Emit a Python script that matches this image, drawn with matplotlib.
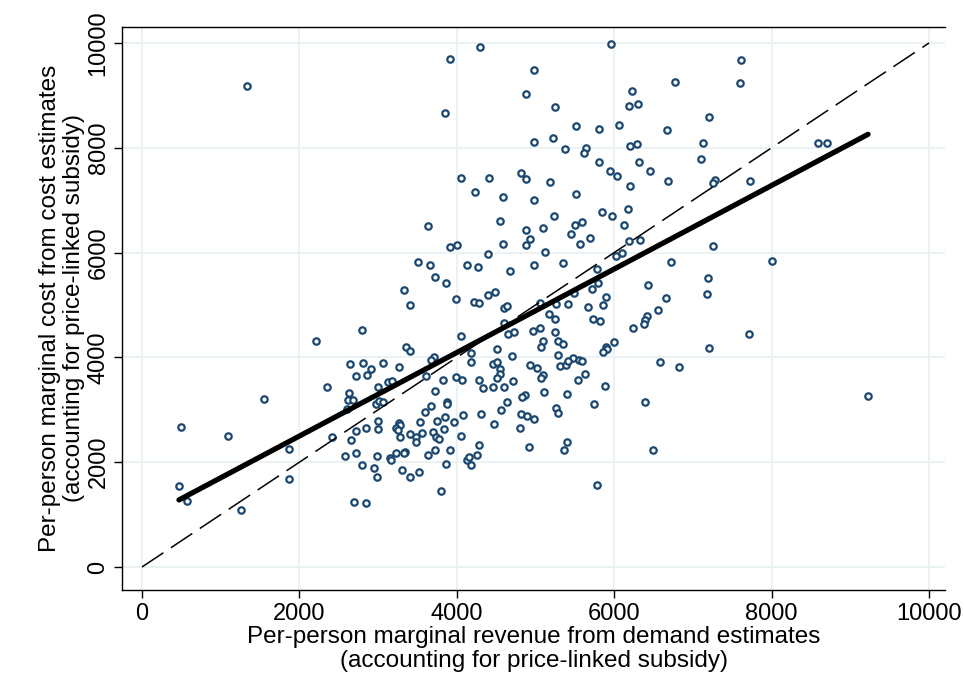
import numpy as np
import matplotlib.pyplot as plt

plt.rcParams["font.family"] = ["Liberation Sans", "DejaVu Sans"]
plt.rcParams["lines.scale_dashes"] = False

# marginal revenue (x) and marginal cost (y) per person, one entry per market
mr = [
    1340, 4295, 3914, 4880, 3850, 4053, 4409, 4816, 4880, 4231, 4587,
    5959, 4981, 6773, 6226, 6188, 6302, 5248, 7205, 5515, 5807, 6061, 6671,
    4981, 5222, 5375, 5642, 5616, 6201, 6290, 7128, 7103, 5807, 6315, 5947,
    6036, 6455, 5184, 6684, 6201, 5515, 7281, 7256, 4981,
    7611, 7599, 8590, 8704, 7726,
    2211, 2351,
    3634, 4549, 4880, 4930, 4587, 4880, 3914, 4003, 4397, 3507, 3660, 4130,
    4269, 4676, 3723, 3863, 3329, 4397, 4485, 3990, 3405, 4219, 4282, 4600,
    4638, 2795, 4600, 4053, 4651, 4727, 3355, 3405, 4511, 3710, 3672, 4180,
    4701, 2643, 2808, 3062, 3266, 4180, 4460, 4511, 4930, 2719, 2859, 2910,
    3609, 4549, 4549, 4511, 2999, 3126, 3177, 3825, 3990, 4066, 4282, 4460,
    4600, 4714, 4333,
    5235, 5845, 5972, 6175, 5095, 5502, 5591, 5451, 5693, 6125, 5565, 6188,
    6328, 7256, 5121, 6023, 6099, 4981, 5350, 6722, 5782, 7192, 5718, 5794,
    6429, 7179, 5489, 5896, 6658, 5261, 5413, 5667, 5858, 6557, 5057, 5172,
    5248, 5731, 5820, 6417, 6391, 6379, 6239, 4968, 5057, 5248, 5095, 5070,
    5286, 5350, 5998, 5896, 5909, 5858, 7205, 5286, 5477, 5553, 5591, 5019,
    5311, 5388, 5413, 6582, 6823, 5095, 5070, 5629, 5540, 5883,
    8005, 7713,
    500, 1093, 1550, 1868, 1868, 470, 572, 1258, 2414,
    2630, 2618, 2681, 2605, 2973, 3011, 3062, 3723, 3875, 3875, 4867, 4829,
    4638, 3672, 3596, 4079, 4308, 4562, 4816, 4892, 3850, 3748, 3964, 3532,
    2999, 4473, 4803, 3266, 3278, 3228, 3253, 2846, 2999, 2719, 2656, 3278,
    3405, 3482, 3482, 3558, 3698, 3736, 3774, 3837, 4053, 4282, 4257, 4130,
    4155, 4180, 3914, 3723, 3634, 3863, 3799, 3520, 3405, 3304, 3342, 3329,
    3228, 3151, 3164, 2986, 2948, 2986, 2795, 2719, 2580, 2694, 2846,
    5108, 5400, 5743, 5261, 5286, 6391, 4981, 4918, 5400, 5362, 6493, 5782,
    9225,
]
mc = [
    9180, 9924, 9695, 9027, 8664, 7424, 7424, 7519, 7405, 7157, 7061,
    9981, 9485, 9256, 9084, 8798, 8836, 8779, 8588, 8416, 8359, 8435, 8340,
    8111, 8187, 7977, 7996, 7901, 8034, 8073, 8092, 7786, 7729, 7729, 7557,
    7462, 7557, 7347, 7366, 7271, 7118, 7385, 7328, 7000,
    9676, 9237, 8092, 8092, 7366,
    4313, 3435,
    6508, 6603, 6431, 6260, 6164, 6145, 6107, 6145, 5973, 5821, 5763, 5763,
    5725, 5649, 5534, 5420, 5286, 5191, 5248, 5114, 5000, 5057, 5038, 4943,
    4981, 4523, 4656, 4408, 4447, 4485, 4198, 4122, 4160, 4008, 3950, 4084,
    4027, 3874, 3893, 3893, 3817, 3912, 3874, 3912, 3855, 3645, 3664, 3779,
    3645, 3779, 3683, 3607, 3435, 3530, 3550, 3569, 3626, 3569, 3569, 3435,
    3435, 3550, 3416,
    6698, 6775, 6698, 6832, 6469, 6527, 6584, 6355, 6279, 6527, 6164, 6221,
    6240, 6126, 6011, 5935, 5992, 5763, 5801, 5821, 5687, 5515, 5305, 5420,
    5382, 5210, 5229, 5153, 5134, 5019, 5019, 4962, 5000, 4905, 5038, 4828,
    4733, 4733, 4695, 4790, 4714, 4637, 4561, 4504, 4561, 4485, 4313, 4198,
    4313, 4256, 4294, 4198, 4160, 4103, 4179, 4046, 3989, 3950, 3931, 3798,
    3836, 3855, 3931, 3912, 3817, 3664, 3607, 3683, 3569, 3454,
    5840, 4447,
    2670, 2500, 3206, 2252, 1679, 1546, 1260, 1088, 2481,
    3321, 3187, 3187, 3015, 3111, 3168, 3149, 3359, 3149, 3111, 3282, 3244,
    3149, 3073, 2958, 2901, 2920, 2996, 2920, 2882, 2863, 2786, 2767, 2767,
    2786, 2729, 2653, 2748, 2710, 2653, 2615, 2653, 2634, 2595, 2424, 2481,
    2538, 2481, 2386, 2557, 2576, 2481, 2443, 2634, 2500, 2328, 2137, 2042,
    2099, 1946, 2233, 2233, 2137, 1966, 1450, 1813, 1718, 1851, 2195, 2176,
    2176, 2080, 2042, 2118, 1889, 1718, 1946, 2176, 2118, 1240, 1221,
    3340, 3302, 3111, 3034, 2939, 3149, 2824, 2290, 2386, 2233, 2233, 1565,
    3263,
]

# linear fit (intercept, slope) over the observed range of mr
fit_coef = [905, 0.797]
ticks = [0, 2000, 4000, 6000, 8000, 10000]

navy = "#1a476f"
grid_col = "#eaf2f3"

fig = plt.figure(figsize=(9.64, 7.0), dpi=100)
ax = fig.add_axes([122 / 964, 110 / 700, 823 / 964, 563 / 700])

ax.plot(mr, mc, linestyle="none", marker="o", markersize=4.6,
        markerfacecolor="white", markeredgecolor=navy, markeredgewidth=1.6,
        zorder=3)

# 45-degree reference line
ax.plot([0, 10000], [0, 10000], color="black", linewidth=1.1,
        dashes=(18.5, 6.5), zorder=4)

fx = np.array([min(mr), max(mr)])
ax.plot(fx, fit_coef[0] + fit_coef[1] * fx, color="black", linewidth=3.8,
        solid_capstyle="round", zorder=5)

ax.set_xlim(-254, 10203)
ax.set_ylim(-439, 10305)
ax.set_xticks(ticks)
ax.set_yticks(ticks)
ax.grid(True, color=grid_col, linewidth=1.4, zorder=0)
ax.set_axisbelow(True)

ax.spines["right"].set_visible(False)
for side in ["left", "bottom", "top"]:
    ax.spines[side].set_linewidth(1.0)

ax.tick_params(axis="both", direction="out", length=6, width=1.0,
               labelsize=17, pad=3)
plt.setp(ax.get_yticklabels(), rotation=90, va="center")

ax.set_xlabel("Per-person marginal revenue from demand estimates\n"
              "(accounting for price-linked subsidy)", fontsize=17.5,
              linespacing=1.15, labelpad=1)
ax.set_ylabel("Per-person marginal cost from cost estimates\n"
              "(accounting for price-linked subsidy)", fontsize=17.5,
              linespacing=1.15, labelpad=1.5)

fig.savefig("out.png", dpi=100)
